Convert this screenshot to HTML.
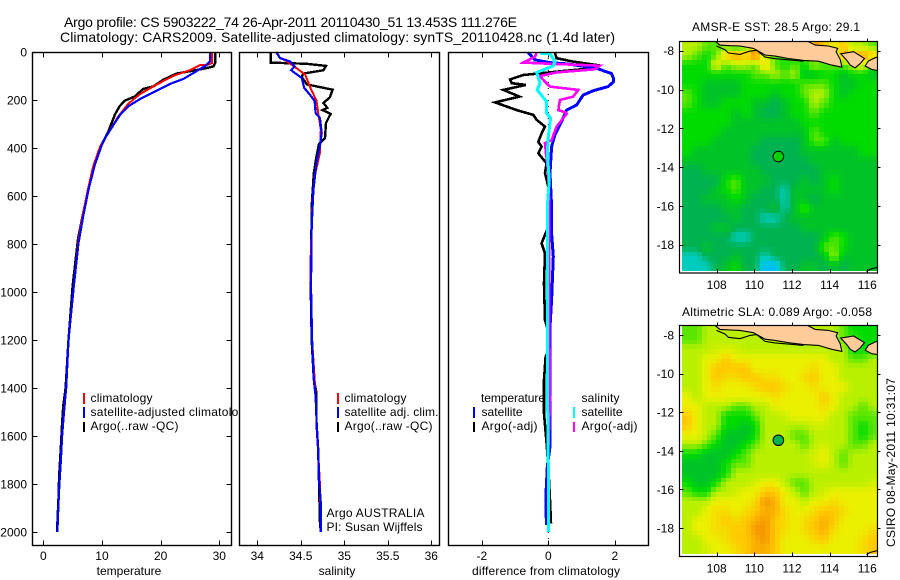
<!DOCTYPE html>
<html lang="en">
<head>
<meta charset="utf-8">
<title>Argo profile</title>
<style>
html,body{margin:0;padding:0;background:#fff;}
svg{display:block;font-family:"Liberation Sans",sans-serif;font-size:12px;fill:#000;}
text{fill:#000;stroke:none;}
</style>
</head>
<body>
<svg id="chart" xmlns="http://www.w3.org/2000/svg" width="900" height="580" viewBox="0 0 900 580">
  <rect x="0" y="0" width="900" height="580" fill="#fff"/>
  <text x="64" y="27" font-size="14" textLength="453" lengthAdjust="spacing">Argo profile: CS 5903222_74 26-Apr-2011 20110430_51 13.453S 111.276E</text>
  <text x="60" y="42" font-size="14" textLength="555" lengthAdjust="spacing">Climatology: CARS2009. Satellite-adjusted climatology: synTS_20110428.nc (1.4d later)</text>

  <g id="p1"></g>
  <g id="p1legend">
    <rect x="83" y="393" width="2" height="11" fill="#ff0000"/>
    <rect x="83" y="407" width="2" height="11" fill="#0000ff"/>
    <rect x="83" y="422" width="2" height="10" fill="#000"/>
    <text x="90.5" y="402" textLength="62" lengthAdjust="spacing">climatology</text>
    <text x="90.5" y="416" textLength="161" lengthAdjust="spacing">satellite-adjusted climatology</text>
    <text x="90.5" y="430" textLength="88" lengthAdjust="spacing">Argo(..raw -QC)</text>
  </g>

  <g id="p2"></g>
  <g id="p2legend">
    <rect x="337" y="393" width="2" height="11" fill="#ff0000"/>
    <rect x="337" y="407" width="2" height="11" fill="#0000ff"/>
    <rect x="337" y="422" width="2" height="10" fill="#000"/>
    <text x="344.5" y="402" textLength="62" lengthAdjust="spacing">climatology</text>
    <text x="344.5" y="416" textLength="94" lengthAdjust="spacing">satellite adj. clim.</text>
    <text x="344.5" y="430" textLength="88" lengthAdjust="spacing">Argo(..raw -QC)</text>
    <text x="326.5" y="517" textLength="98" lengthAdjust="spacing">Argo AUSTRALIA</text>
    <text x="326.5" y="531" textLength="96" lengthAdjust="spacing">PI: Susan Wijffels</text>
  </g>

  <g id="p3"></g>
  <g id="p3legend">
    <text x="481" y="402" textLength="64" lengthAdjust="spacing">temperature</text>
    <rect x="473" y="407" width="2" height="11" fill="#0000ff"/>
    <text x="481.5" y="416" textLength="41" lengthAdjust="spacing">satellite</text>
    <rect x="473" y="422" width="2" height="10" fill="#000"/>
    <text x="481.5" y="430" textLength="56" lengthAdjust="spacing">Argo(-adj)</text>
    <text x="581.5" y="402" textLength="38" lengthAdjust="spacing">salinity</text>
    <rect x="573" y="407" width="2" height="11" fill="#00ffff"/>
    <text x="581.5" y="416" textLength="41" lengthAdjust="spacing">satellite</text>
    <rect x="573" y="422" width="2" height="10" fill="#ff00ff"/>
    <text x="581.5" y="430" textLength="56" lengthAdjust="spacing">Argo(-adj)</text>
  </g>

  <g id="m1"></g>
  <g id="m2"></g>
  <text x="692" y="31" textLength="168" lengthAdjust="spacing">AMSR-E SST: 28.5 Argo: 29.1</text>
  <text x="682" y="316" textLength="190" lengthAdjust="spacing">Altimetric SLA: 0.089 Argo: -0.058</text>
  <text transform="translate(895 547) rotate(-90)" textLength="169" lengthAdjust="spacing">CSIRO 08-May-2011 10:31:07</text>
</svg>
<script>
/* ---------- depth ticks ---------- */
const depthTicks = [0,200,400,600,800,1000,1200,1400,1600,1800,2000];

/* ---------- temperature panel ---------- */
const tempTicks = [0,10,20,30];
const tempArgoDepth = [0,46,60,70,80,90,115,143,154,185,203,226,261,330,400,476,573,670,782,976,1200,1400,1476,1546,1643,1768,1850,1961,2000];
const tempArgoValue = [29.3,29.3,29,27.3,25,22.7,20.5,18.8,17,15.6,13.9,13,12.2,11.1,9.7,8.6,7.7,6.8,5.9,5,4.3,3.8,3.4,3.2,3,2.7,2.6,2.4,2.4];
const tempClimDepth = [0,46,53,55,76,99,136,175,215,268,323,393,476,573,670,782,976,1200,1400,1600,1800,2000];
const tempClimValue = [28.75,28.75,28.1,26.7,25,22.2,19.3,16.5,14.5,12.8,11.4,9.7,8.5,7.6,6.8,6,5.2,4.3,3.9,3.2,2.75,2.4];
const tempSatDepth = [0,39,55,80,112,133,168,196,226,261,317,372,469,573,685,796,976,1200,1400,1476,1600,1700,1800,1900,2000];
const tempSatValue = [28.4,28.4,27.8,26.1,23.9,21.6,18.8,16.5,14.5,13.1,11.6,10.2,8.8,7.7,6.8,6,5.2,4.3,3.9,3.6,3.2,3,2.75,2.55,2.4];

/* ---------- salinity panel ---------- */
const salTicks = [34,34.5,35,35.5,36];
const salArgoDepth = [0,44,49,58,76,90,104,135,157,189,212,233,242,258,296,358,382,435,504,643,921,1000,1200,1365,1420,1546,1657,1810,1956,2000];
const salArgoValue = [34.153,34.153,34.567,34.79,34.76,34.53,34.51,34.57,34.866,34.835,34.76,34.805,34.75,34.843,34.79,34.778,34.71,34.68,34.65,34.625,34.617,34.615,34.625,34.65,34.68,34.68,34.7,34.71,34.72,34.73];
const salClimDepth = [0,21,39,67,94,157,203,254,324,421,518,615,893,1200,1400,1600,1800,2000];
const salClimValue = [34.215,34.25,34.34,34.45,34.55,34.62,34.68,34.7,34.73,34.72,34.66,34.635,34.61,34.63,34.665,34.69,34.72,34.73];
const salSatDepth = [0,25,39,60,76,87,108,150,178,205,254,275,337,393,462,574,726,976,1200,1365,1434,1531,1657,1782,1880,2000];
const salSatValue = [34.22,34.26,34.375,34.43,34.39,34.43,34.51,34.54,34.605,34.66,34.67,34.72,34.74,34.72,34.68,34.645,34.625,34.617,34.63,34.65,34.67,34.68,34.7,34.71,34.73,34.73];

/* ---------- difference panel ---------- */
const diffTicks = [-2,0,2];
const diffTArgoDepth = [3,26,40,54,68,82,96,114,130,137,158,186,210,242,262,283,311,339,374,394,422,464,505,561,644,728,797,839,964,1117,1150,1256,1270,1367,1506,1631,1728,1867,1964];
const diffTArgoValue = [0.2,0.25,0.75,1.45,1.3,0.25,-0.75,-1.15,-1.1,-0.67,-1.35,-0.87,-1.6,-0.95,-0.45,-0.35,-0.1,-0.2,-0.3,-0.2,-0.3,-0.05,-0.1,0,0,0,-0.2,-0.1,-0.13,-0.1,-0.03,-0.03,-0.08,-0.13,-0.13,-0.05,0,0.05,0.08];
const diffTSatDepth = [3,33,44,50,68,90,110,124,144,161,179,221,242,290,346,394,505,644,755,853,1033,1144,1478,1644,1728,1839,1922,1970];
const diffTSatValue = [-0.6,-0.4,0.05,0.6,1.45,1.9,1.96,1.96,1.8,1.36,1.05,0.85,0.55,0.4,0.2,0.1,0.05,0.1,0.1,0.15,0.1,0.05,0.05,0.05,-0.03,-0.07,-0.07,-0.05];
const diffSArgoDepth = [3,19,44,50,57,72,85,100,124,144,158,186,200,242,251,258,311,367,380,422,505,644,755,1172,1450,1658,2000];
const diffSArgoValue = [-0.35,-0.4,-0.75,0.25,1.55,1.4,0.25,-0.25,-0.1,0.05,0.9,0.75,0.35,0.3,0.5,0.55,0.25,0.1,-0.1,-0.07,0,0.03,0.03,0.03,0.05,0,0];
const diffSSatDepth = [5,8,40,58,85,130,158,207,255,276,353,422,533,644,755,1033,1311,1728,2000];
const diffSSatValue = [-0.25,0.05,0.2,0.15,-0.35,-0.25,-0.33,-0.05,-0.05,0.07,0,-0.03,0.03,-0.03,-0.03,-0.03,-0.03,0,0];

/* ---------- maps ---------- */
const lonTicks = [108,110,112,114,116];
const latTicks = [-8,-10,-12,-14,-16,-18];
const lonTickLabels = ['108','110','112','114','116'];
const latTickLabels = ['-8','-10','-12','-14','-16','-18'];
const argoLon = [111.276];
const argoLat = [-13.453];

const sstLevels = [
[6,6,5,5,5,4,5,7,6,6,4,4,4,9,8,7,8,6,6,5],
[6,5,4,5,8,9,8,10,6,5,5,4,4,4,4,5,9,8,9,8],
[4,4,4,7,5,6,6,5,8,5,4,5,4,6,5,5,5,6,7,4],
[4,4,4,4,4,4,4,5,5,6,5,6,3,3,4,4,3,4,4,3],
[4,4,3,3,3,3,4,4,4,4,4,4,5,5,5,4,3,3,4,4],
[5,4,3,3,3,3,4,4,4,3,4,4,5,6,6,4,3,4,4,4],
[5,4,3,3,4,4,4,3,3,2,3,4,4,6,5,4,4,4,4,4],
[4,4,4,4,4,3,4,3,2,2,3,4,4,5,4,4,4,4,4,4],
[4,4,4,4,4,3,3,3,3,3,3,3,4,4,4,4,4,4,4,4],
[4,4,4,4,3,3,3,3,3,3,3,3,3,5,4,4,4,4,4,4],
[4,4,4,3,3,3,3,3,2,2,2,2,3,5,5,3,4,4,4,4],
[4,3,3,3,3,3,3,2,2,2,2,2,3,3,3,3,3,3,4,4],
[3,3,3,3,3,3,3,2,2,2,2,2,2,3,3,3,3,3,3,3],
[2,2,3,3,3,3,3,3,2,2,2,2,2,2,3,3,3,3,3,3],
[2,2,2,2,4,5,3,3,3,2,2,2,3,2,3,4,3,3,3,3],
[2,2,2,3,4,5,3,3,2,2,1,3,3,3,3,4,3,3,3,3],
[2,2,3,3,3,4,3,2,2,2,1,3,3,2,3,3,3,3,3,3],
[2,2,2,2,3,3,2,2,2,3,1,3,5,3,3,3,3,3,3,3],
[2,2,2,2,2,3,2,2,1,1,2,3,3,3,3,3,3,3,3,3],
[2,2,2,3,3,2,2,2,2,2,2,2,3,3,3,3,3,3,3,3],
[2,2,2,2,2,1,1,2,2,2,2,2,2,2,3,5,4,3,3,3],
[2,2,3,2,2,2,2,2,2,2,2,2,2,2,5,5,4,3,3,3],
[1,1,2,2,2,3,2,2,1,2,2,2,2,2,3,6,3,3,3,3],
[1,1,1,2,3,4,2,2,0,0,2,2,3,3,2,3,2,3,3,3]
];
const slaLevels = [
[5,5,6,6,6,6,6,6,6,6,6,6,6,6,6,6,5,4,4,4],
[5,5,6,6,6,6,6,6,6,6,6,6,6,6,6,6,5,5,4,4],
[6,6,6,6.5,6.5,6.5,6,6,6,6,6,6,6,6,6,6,6,4,4,4],
[6,6,7,7,8,7,7,7,7,7,7,7,7,7,7,6,6,5,5,6],
[6,6,7,8,8,8,8,7,7,7,7,7,7,7.5,7,7,6,6,6,6],
[6,6,7,8,7.5,7.5,8,8,7.5,7.5,7,7,7.5,8,7,7,6,6,6,6],
[6,6,7,7.5,7,7,7,7.5,8,8,7.5,7,7,7.5,7,7,7,6,6,6],
[7,6,7,7,7,7,7,7,7,7.5,7,7,7,7,8,7,6,6,6,6],
[7,7,6,6,6,5,5,6,6,7,7,7,7,7,7.5,7,6,6,5,6],
[8,7,6,6,4,4,4,5,6,6,6.5,7,7,7,7,6,6,5,5,5],
[8,7,6,6,4,4,3,4,6,6,6,6,6,6.5,6.5,6,6,5,4,5],
[7,7,6,5,3,3,3,4,6,6,6,5,5,6,6,6,6,5,4,5],
[6,6,5,4,3,3,4,5,6,6,6,6,5,6,6.5,6,6,5,5,6],
[4,4,3,3,3,4,5,6,6,6,6,6,6,6.5,7,6,5,6,6,6],
[3,3,3,3,4,5,5,6,6,6,6,6,6,6.5,7,6,5,6,6,6],
[3,3,3,3,4,6,6,6,6,6,6,6,6,6,6,6,6,6,6,6],
[4,3,3,4,6,6,6,6.5,7,7,6,5,5,6,6,6,6,6,6,6.5],
[5,4,4,6,6,6.5,7,7,8,8,7,6,5,6,6.5,7,7,7,7,7],
[6,6,6,7,7,7,7,7.5,9,8.5,7,7,6,7,7,7.5,7,7,7,7],
[6,6,7,7.5,7.5,7,7.5,8,8.5,8.5,7.5,7,7,7.5,8,8,7.5,7,7,7],
[6,7,7,7.5,8,7.5,8,8.5,9,8,7.5,7,7.5,8,8.5,8,7,7,7,7],
[6,7,7,7.5,7.5,8,8,9,9,8,7.5,7,7.5,8,8.5,7.5,7,7,7,7.5],
[6,6,7,7,7.5,8,8,8.5,9,8,7,7,7,7.5,8,7,7,7,7.5,8],
[6,6,6.5,7,7,7.5,8,8.5,8.5,8,7,7,7,7,7,7,7,7,7.5,8]
];
const javaLon = [107.94,108.17,108.71,109.24,109.95,110.57,111.1,111.81,112.61,113.4,114.11,114.65,114.56,114.34,114.43,113.94,113.23,112.87,112.5,108];
const javaLat = [-7.53,-7.71,-7.74,-7.76,-7.88,-8.22,-8.28,-8.4,-8.5,-8.54,-8.74,-8.85,-8.45,-8.05,-7.88,-7.76,-7.71,-7.53,-7,-7];
const baliLon = [114.59,115.27,115.85,115.62,115.35,115.09,114.91];
const baliLat = [-8.16,-8.05,-8.4,-8.67,-8.88,-8.74,-8.5];
const lombokLon = [116.06,116.42,116.77,116.77,116.24,115.89];
const lombokLat = [-8.53,-8.36,-8.28,-9.05,-8.97,-8.79];
const shelfLon = [107.99,108.44,108.62,109.24,109.77,110.12,110.57,111.1,111.81,112.61];
const shelfLat = [-7.76,-7.95,-8.12,-8.19,-8.02,-7.98,-8.33,-8.41,-8.47,-8.54];
const southLon = [115.96,116.14,116.53];
const southLat = [-19.39,-19.27,-19.17];
const levelColors = [[0,190,255],[0,205,190],[0,178,80],[0,195,40],[0,220,0],[90,230,0],[185,240,0],[235,240,0],[255,200,0],[245,150,0],[205,85,0]];

/* ---------- helpers ---------- */
const NS = 'http://www.w3.org/2000/svg';
function mk(parent, tag, attrs, name) {
  const el = document.createElementNS(NS, tag);
  for (const k in attrs) el.setAttribute(k, attrs[k]);
  
  
  parent.appendChild(el);
  return el;
}
function depthY(d) { return 52 + d * 0.24; }
function linear(v0, p0, v1, p1) { return v => p0 + (v - v0) * (p1 - p0) / (v1 - v0); }
function levelColor(v) {
  const i = Math.max(0, Math.min(levelColors.length - 2, Math.floor(v)));
  const f = Math.max(0, Math.min(1, v - i));
  const a = levelColors[i], b = levelColors[i + 1];
  return 'rgb(' + a.map((c, k) => Math.round(c + (b[k] - c) * f)).join(',') + ')';
}

function buildPanel(id, box, xScale, ticks, tickFmt, xTitle, titleX, withDepth, titleLen) {
  const g = document.getElementById(id);
  mk(g, 'rect', {x: box.l, y: box.t, width: box.r - box.l, height: box.b - box.t, fill: '#fff'}, 'plot-area');
  ticks.forEach(t => {
    const x = Math.round(xScale(t)) + 0.5;
    mk(g, 'line', {x1: x, x2: x, y1: box.t, y2: box.t + 5, stroke: '#000'}, 'x-tick-top');
    mk(g, 'line', {x1: x, x2: x, y1: box.b, y2: box.b - 5, stroke: '#000'}, 'x-tick-bottom');
    const lab = mk(g, 'text', {x: xScale(t), y: 560, 'text-anchor': 'middle'}, 'x-tick-label');
    lab.textContent = tickFmt(t);
  });
  if (withDepth) {
    depthTicks.forEach(d => {
      const y = Math.round(depthY(d)) + 0.5;
      mk(g, 'line', {x1: box.l, x2: box.l + 5, y1: y, y2: y, stroke: '#000'}, 'y-tick-left');
      mk(g, 'line', {x1: box.r, x2: box.r - 5, y1: y, y2: y, stroke: '#000'}, 'y-tick-right');
      const lab = mk(g, 'text', {x: 27, y: depthY(d) + 4.5, 'text-anchor': 'end'}, 'y-tick-label');
      lab.textContent = String(d);
    });
  }
  const attrs = {x: titleX, y: 575, 'text-anchor': 'middle'};
  if (titleLen) { attrs.textLength = titleLen; attrs.lengthAdjust = 'spacing'; }
  const xt = mk(g, 'text', attrs, 'x-axis-title');
  xt.textContent = xTitle;
}
function frame(id, box) {
  mk(document.getElementById(id), 'rect', {x: box.l, y: box.t, width: box.r - box.l, height: box.b - box.t, fill: 'none', stroke: '#000', 'stroke-width': 1.4}, 'axes-frame');
}
function profile(id, xScale, depths, values, color, width, name) {
  const pts = depths.map((d, i) => xScale(values[i]).toFixed(1) + ',' + depthY(d).toFixed(1)).join(' ');
  mk(document.getElementById(id), 'polyline', {points: pts, fill: 'none', stroke: color, 'stroke-width': width, 'stroke-linejoin': 'miter', 'shape-rendering': 'crispEdges'}, name);
}

/* ---------- profile panels ---------- */
const box1 = {l: 32.5, r: 231.5, t: 52.5, b: 545.5};
const box2 = {l: 239.5, r: 439.5, t: 52.5, b: 545.5};
const box3 = {l: 448.5, r: 648.5, t: 52.5, b: 545.5};
const xT = linear(0, 43.3, 30, 219.3);
const xS = linear(34, 257.3, 36, 431.3);
const xD = linear(0, 548.3, 2, 614.8);

buildPanel('p1', box1, xT, tempTicks, String, 'temperature', 129, true, 0);
profile('p1', xT, tempArgoDepth, tempArgoValue, '#000', 2.4, 'argo-temperature-line');
profile('p1', xT, tempClimDepth, tempClimValue, '#ff0000', 2, 'climatology-temperature-line');
profile('p1', xT, tempSatDepth, tempSatValue, '#0000ff', 2.2, 'satellite-temperature-line');
frame('p1', box1);

buildPanel('p2', box2, xS, salTicks, String, 'salinity', 337, false, 0);
profile('p2', xS, salArgoDepth, salArgoValue, '#000', 2.4, 'argo-salinity-line');
profile('p2', xS, salClimDepth, salClimValue, '#ff0000', 2, 'climatology-salinity-line');
profile('p2', xS, salSatDepth, salSatValue, '#0000ff', 2.2, 'satellite-salinity-line');
frame('p2', box2);

buildPanel('p3', box3, xD, diffTicks, String, 'difference from climatology', 546, false, 148);
mk(document.getElementById('p3'), 'line', {x1: xD(0), x2: xD(0), y1: 52, y2: 545, stroke: '#000', 'stroke-dasharray': '1 5'}, 'zero-reference-line');
profile('p3', xD, diffTArgoDepth, diffTArgoValue, '#000', 2.6, 'argo-temperature-difference-line');
profile('p3', xD, diffTSatDepth, diffTSatValue, '#0000ff', 3, 'satellite-temperature-difference-line');
profile('p3', xD, diffSArgoDepth, diffSArgoValue, '#ff00ff', 2.6, 'argo-salinity-difference-line');
profile('p3', xD, diffSSatDepth, diffSSatValue, '#00ffff', 3, 'satellite-salinity-difference-line');
frame('p3', box3);

/* ---------- maps ---------- */
function sampleLevel(levels, rf, cf) {
  const nr = levels.length, nc = levels[0].length;
  const r0 = Math.max(0, Math.min(nr - 1, Math.floor(rf))), r1 = Math.min(nr - 1, Math.max(0, Math.floor(rf) + 1));
  const c0 = Math.max(0, Math.min(nc - 1, Math.floor(cf))), c1 = Math.min(nc - 1, Math.max(0, Math.floor(cf) + 1));
  const fr = rf - Math.floor(rf), fc = cf - Math.floor(cf);
  const top = levels[r0][c0] * (1 - fc) + levels[r0][c1] * fc;
  const bot = levels[r1][c0] * (1 - fc) + levels[r1][c1] * fc;
  return top * (1 - fr) + bot * fr;
}
function buildMap(id, box, lonPx, latPx, levels, dotColor, clipId) {
  const g = document.getElementById(id);
  const xL = linear(108, lonPx[0], 116, lonPx[1]);
  const yL = linear(-8, latPx[0], -18, latPx[1]);
  mk(g, 'rect', {x: box.l, y: box.t, width: box.r - box.l, height: box.b - box.t, fill: '#fff'}, 'map-background');
  const lonMin = 106.16, lonMax = 116.56, latMax = -7.5, latMin = -19.34;
  const nRows = levels.length * 2, nCols = levels[0].length * 2;
  const dLon = (lonMax - lonMin) / nCols;
  const dLat = (latMax - latMin) / nRows;
  const cells = mk(g, 'g', {'shape-rendering': 'crispEdges'}, 'heatmap-cells');
  for (let r = 0; r < nRows; r++) {
    for (let c = 0; c < nCols; c++) {
      const x0 = Math.round(xL(lonMin + c * dLon)), x1 = Math.round(xL(lonMin + (c + 1) * dLon));
      const y0 = Math.round(yL(latMax - r * dLat)), y1 = Math.round(yL(latMax - (r + 1) * dLat));
      const v = sampleLevel(levels, (r - 0.5) / 2, (c - 0.5) / 2);
      mk(cells, 'rect', {x: x0, y: y0, width: x1 - x0, height: y1 - y0, fill: levelColor(v)}, 'heatmap-cell');
    }
  }
  const defs = mk(g, 'clipPath', {id: clipId}, 'map-clip');
  mk(defs, 'rect', {x: box.l, y: box.t, width: box.r - box.l, height: box.b - box.t}, 'map-clip-rect');
  const land = mk(g, 'g', {'clip-path': 'url(#' + clipId + ')'}, 'coastline-group');
  const pts = (lo, la) => lo.map((v, i) => xL(v).toFixed(1) + ',' + yL(la[i]).toFixed(1)).join(' ');
  mk(land, 'polygon', {points: pts(javaLon, javaLat), fill: '#ffcc99', stroke: '#000', 'stroke-width': 1.1}, 'land-java');
  mk(land, 'polygon', {points: pts(baliLon, baliLat), fill: '#ffcc99', stroke: '#000', 'stroke-width': 1.1}, 'land-bali');
  mk(land, 'polygon', {points: pts(lombokLon, lombokLat), fill: '#ffcc99', stroke: '#000', 'stroke-width': 1.1}, 'land-lombok');
  mk(land, 'polyline', {points: pts(shelfLon, shelfLat), fill: 'none', stroke: '#000', 'stroke-width': 1.1}, 'coast-shelf-line');
  mk(land, 'polyline', {points: pts(southLon, southLat), fill: 'none', stroke: '#000', 'stroke-width': 1.1}, 'coast-south-line');
  mk(g, 'circle', {cx: xL(argoLon[0]), cy: yL(argoLat[0]), r: 5.3, fill: dotColor, stroke: '#000', 'stroke-width': 1}, 'argo-position-marker');
  lonTicks.forEach((t, i) => {
    const x = Math.round(xL(t)) + 0.5;
    mk(g, 'line', {x1: x, x2: x, y1: box.t, y2: box.t - 3, stroke: '#000'}, 'lon-tick-top');
    mk(g, 'line', {x1: x, x2: x, y1: box.b, y2: box.b - 4, stroke: '#000'}, 'lon-tick-bottom');
    const lab = mk(g, 'text', {x: xL(t), y: box.b + 16, 'text-anchor': 'middle'}, 'lon-tick-label');
    lab.textContent = lonTickLabels[i];
  });
  latTicks.forEach((t, i) => {
    const y = Math.round(yL(t)) + 0.5;
    mk(g, 'line', {x1: box.l, x2: box.l + 4, y1: y, y2: y, stroke: '#000'}, 'lat-tick-left');
    mk(g, 'line', {x1: box.r, x2: box.r + 3, y1: y, y2: y, stroke: '#000'}, 'lat-tick-right');
    const lab = mk(g, 'text', {x: 674, y: yL(t) + 4.5, 'text-anchor': 'end'}, 'lat-tick-label');
    lab.textContent = latTickLabels[i];
  });
  mk(g, 'rect', {x: box.l, y: box.t, width: box.r - box.l, height: box.b - box.t, fill: 'none', stroke: '#000', 'stroke-width': 1.2}, 'map-frame');
}
buildMap('m1', {l: 679.5, r: 877.5, t: 41.5, b: 273}, [716.7, 867.3], [50.7, 244.7], sstLevels, '#00d400', 'clip-sst');
buildMap('m2', {l: 679.5, r: 877.5, t: 325.5, b: 556.5}, [716.7, 867.3], [335, 528], slaLevels, '#00b450', 'clip-sla');
</script>
</body>
</html>
